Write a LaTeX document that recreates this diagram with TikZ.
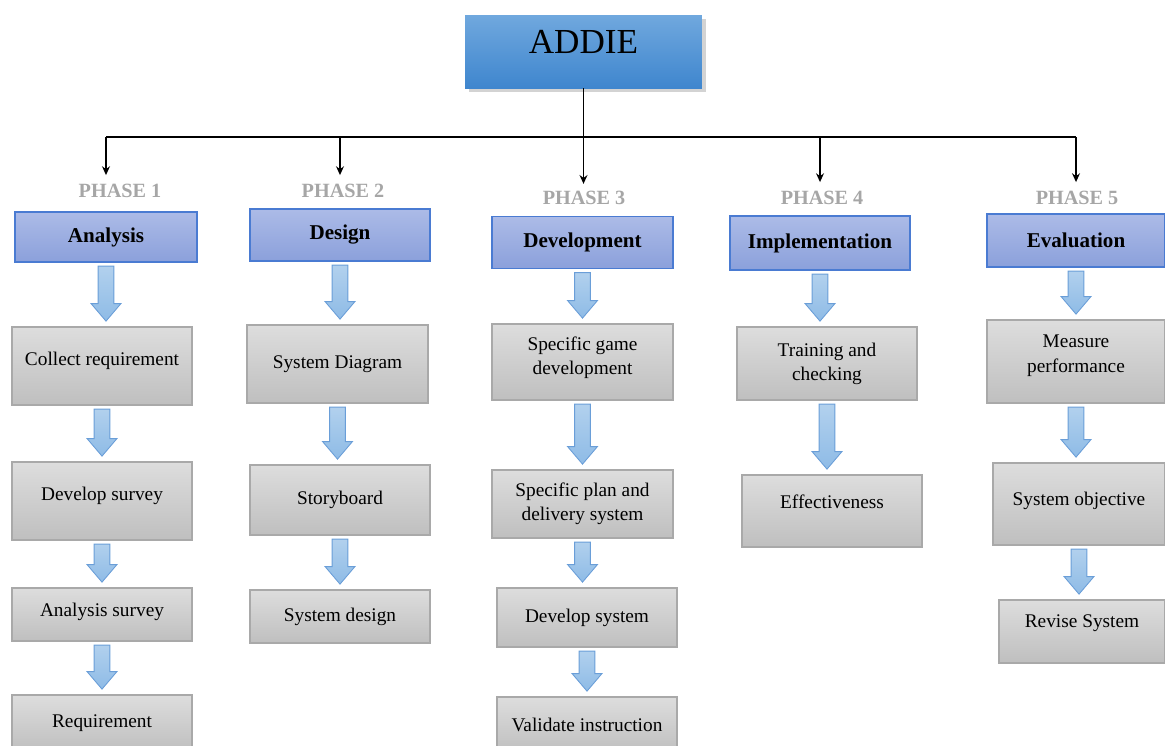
\documentclass[tikz,border=0pt]{standalone}
\usepackage{fontspec}
\setmainfont{Liberation Serif}
\usepackage{tikz}
\usetikzlibrary{arrows.meta, calc, shadows}
\definecolor{roottop}{HTML}{70A8DE}
\definecolor{rootbot}{HTML}{3F86CE}
\definecolor{phasetop}{HTML}{ACBBE7}
\definecolor{phasebot}{HTML}{8BA0DB}
\definecolor{phaseedge}{HTML}{4A7BD2}
\definecolor{tasktop}{HTML}{DDDDDD}
\definecolor{taskbot}{HTML}{BFBFBF}
\definecolor{taskedge}{HTML}{A9A9A9}
\definecolor{flowtop}{HTML}{B4D2EE}
\definecolor{flowbot}{HTML}{8EBBE6}
\definecolor{flowedge}{HTML}{6A9ED8}
\definecolor{lblgray}{HTML}{A6A6A6}

\begin{document}
\begin{tikzpicture}[x=0.02cm, y=-0.02cm,
    rootbox/.style={rectangle, top color=roottop, bottom color=rootbot, draw=none, drop shadow={shadow xshift=2pt, shadow yshift=-2pt, opacity=0.35}, minimum width=4.74cm, minimum height=1.46cm, font=\fontsize{20}{24}\selectfont},
    phasebox/.style={rectangle, top color=phasetop, bottom color=phasebot, draw=phaseedge, line width=0.7pt, minimum width=3.6cm, minimum height=1.04cm, font=\fontsize{12}{14}\selectfont\bfseries},
    taskbox/.style={rectangle, top color=tasktop, bottom color=taskbot, draw=taskedge, line width=0.7pt, drop shadow={shadow xshift=0.6pt, shadow yshift=-0.6pt, opacity=0.2}, minimum width=3.6cm, align=center, font=\fontsize{11}{13.8}\selectfont},
    lift/.style={text depth=#1},
    phaselbl/.style={text=lblgray, inner sep=1pt, font=\fontsize{11.5}{13}\selectfont\bfseries},
    link/.style={draw=black, line width=0.8pt, shorten >=4pt, -{Stealth[length=5pt, width=4.5pt]}},
    flow/.style={top color=flowtop, bottom color=flowbot, draw=flowedge, line width=0.5pt,
        to path={let \p1=(\tikztostart), \p2=(\tikztotarget) in
            (\x1-4.5pt,\y1-2pt) -- (\x1-4.5pt,\y2+13pt) -- (\x1-8.5pt,\y2+13pt) -- (\x1,\y2+3pt)
            -- (\x1+8.5pt,\y2+13pt) -- (\x1+4.5pt,\y2+13pt) -- (\x1+4.5pt,\y1-2pt) -- cycle}},
]
    \useasboundingbox (0,0) rectangle (1165,745);
    % Root
    \node[rootbox] (addie) at (583.5,51.5) {\raisebox{11pt}{ADDIE}};
    % Phase labels
    \foreach \n/\x/\y in {1/120/191, 2/343/191, 3/584/198, 4/822/198, 5/1077/198} {
        \node[phaselbl] (p\n) at (\x,\y) {PHASE \n};
    }
    % Phases
    \node[phasebox, minimum width=3.64cm, minimum height=1.0cm] (ana) at (106,237) {Analysis};
    \node[phasebox] (des) at (340,235) {Design};
    \node[phasebox, minimum width=3.62cm] (dev) at (582.5,242.5) {Development};
    \node[phasebox, minimum height=1.08cm] (imp) at (820,243) {Implementation};
    \node[phasebox, minimum width=3.56cm, minimum height=1.06cm] (eva) at (1076,240.5) {Evaluation};
    % Phase 1 tasks
    \node[taskbox, lift=8pt, minimum height=1.56cm] (a1) at (102,366) {Collect requirement};
    \node[taskbox, lift=8pt, minimum height=1.56cm] (a2) at (102,501) {Develop survey};
    \node[taskbox, lift=5pt, minimum height=1.06cm] (a3) at (102,614.5) {Analysis survey};
    \node[taskbox, minimum height=1.12cm] (a4) at (102,723) {Requirement};
    % Phase 2 tasks
    \node[taskbox, minimum width=3.62cm, minimum height=1.56cm] (d1) at (337.5,364) {System Diagram};
    \node[taskbox, minimum height=1.4cm] (d2) at (340,500) {Storyboard};
    \node[taskbox, minimum height=1.06cm] (d3) at (340,616.5) {System design};
    % Phase 3 tasks
    \node[taskbox, lift=7pt, minimum width=3.62cm, minimum height=1.52cm] (v1) at (582.5,362) {Specific game\\development};
    \node[taskbox, minimum width=3.62cm, minimum height=1.36cm] (v2) at (582.5,504) {Specific plan and\\delivery system};
    \node[taskbox, minimum height=1.18cm] (v3) at (587,617.5) {Develop system};
    \node[taskbox, minimum height=1.12cm] (v4) at (587,725) {Validate instruction};
    % Phase 4 tasks
    \node[taskbox, minimum height=1.46cm] (i1) at (827,363.5) {Training and\\checking};
    \node[taskbox, lift=11pt, minimum height=1.44cm] (i2) at (832,511) {Effectiveness};
    % Phase 5 tasks
    \node[taskbox, lift=9pt, minimum width=3.56cm, minimum height=1.66cm] (e1) at (1076,361.5) {Measure\\performance};
    \node[taskbox, lift=6pt, minimum width=3.44cm, minimum height=1.64cm] (e2) at (1079,504) {System objective};
    \node[taskbox, lift=12pt, minimum width=3.32cm, minimum height=1.26cm] (e3) at (1082,631.5) {Revise System};
    % Tree
    \coordinate (bus) at (583,137);
    \draw[line width=0.8pt] (bus -| ana) -- (bus -| eva);
    \draw[link, shorten >=3pt] (addie.south) -- (p3.north -| addie.south);
    \foreach \b/\p in {ana/p1, des/p2, imp/p4, eva/p5} {
        \draw[link] (bus -| \b) -- (\p.north -| \b);
    }
    % Block arrows
    \foreach \s/\t in {ana/a1, a1/a2, a2/a3, a3/a4, des/d1, d1/d2, d2/d3,
                       dev/v1, v1/v2, v2/v3, v3/v4, imp/i1, i1/i2, eva/e1, e1/e2, e2/e3} {
        \path[flow] (\s.south) to (\t.north);
    }
\end{tikzpicture}
\end{document}
